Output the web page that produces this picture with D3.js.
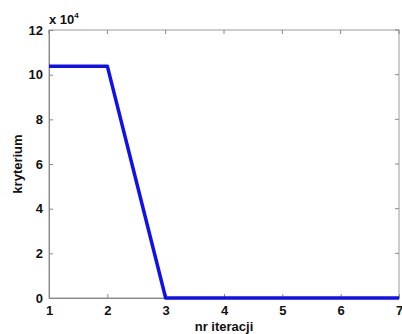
<!DOCTYPE html>
<html><head><meta charset="utf-8">
<script src="https://cdn.jsdelivr.net/npm/d3@7"></script>
<style>body{margin:0;background:#fff}svg{display:block}text{font-family:"Liberation Sans",Arial,sans-serif;font-weight:bold}</style>
</head><body><svg id="c" width="402" height="334"></svg>
<script>
const iterations = [1, 2, 3, 4, 5, 6, 7];
const kryterium = [10.38, 10.38, 0, 0, 0, 0, 0];
const xTicks = [1, 2, 3, 4, 5, 6, 7];
const yTicks = [0, 2, 4, 6, 8, 10, 12];

const svg = d3.select("#c");
const m = {l: 49, r: 399, t: 30, b: 298};
const x = d3.scaleLinear().domain([1, 7]).range([m.l, m.r]);
const y = d3.scaleLinear().domain([0, 12]).range([m.b, m.t]);

// box
svg.append("rect").attr("x", m.l).attr("y", m.t).attr("width", m.r - m.l).attr("height", m.b - m.t)
  .attr("fill", "#fff").attr("stroke", "#999").attr("stroke-width", 1);

const xa = svg.append("g").attr("transform", `translate(0,${m.b})`)
  .call(d3.axisBottom(x).tickValues(xTicks).tickSize(-4).tickPadding(8).tickFormat(d3.format("d")));
const ya = svg.append("g").attr("transform", `translate(${m.l},0)`)
  .call(d3.axisLeft(y).tickValues(yTicks).tickSize(-4).tickPadding(6).tickFormat(d3.format("d")));
[xa, ya].forEach(a => {
  a.select(".domain").attr("stroke", "#888");
  a.selectAll(".tick line").attr("stroke", "#888");
  a.selectAll("text").attr("font-size", 13).attr("fill", "#111").style("font-family", "Liberation Sans, Arial").style("font-weight", "bold");
});
// top/right ticks
const xt = svg.append("g");
xTicks.forEach(v => xt.append("line").attr("x1", x(v)).attr("x2", x(v)).attr("y1", m.t).attr("y2", m.t + 4).attr("stroke", "#888"));
yTicks.forEach(v => xt.append("line").attr("x1", m.r).attr("x2", m.r - 4).attr("y1", y(v)).attr("y2", y(v)).attr("stroke", "#888"));

svg.append("path").datum(iterations.map((d, i) => [d, kryterium[i]]))
  .attr("fill", "none").attr("stroke", "#1010ee").attr("stroke-width", 3.5).attr("stroke-linejoin", "round")
  .attr("d", d3.line().x(d => x(d[0])).y(d => y(d[1])));

const ex = svg.append("text").attr("x", 49).attr("y", 24).attr("font-size", 13).attr("fill", "#111");
ex.append("tspan").text("x 10");
ex.append("tspan").attr("dy", -6).attr("font-size", 8).text("4");

svg.append("text").attr("x", 224).attr("y", 331).attr("text-anchor", "middle").attr("font-size", 13).attr("fill", "#111").text("nr iteracji");
svg.append("text").attr("transform", "translate(22,164) rotate(-90)").attr("text-anchor", "middle").attr("font-size", 13).attr("fill", "#111").text("kryterium");
</script></body></html>
